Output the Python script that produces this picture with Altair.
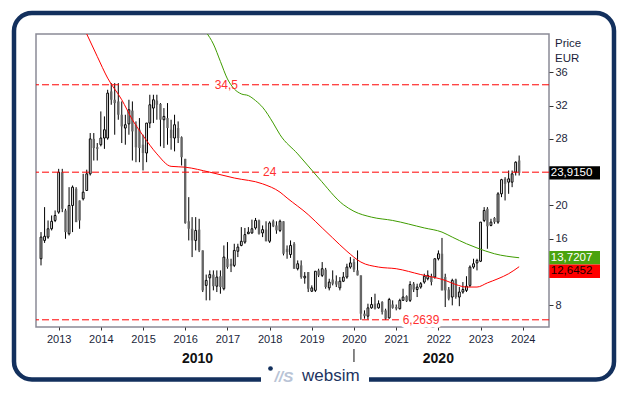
import altair as alt
import pandas as pd

# ---------------- data ----------------
first_month = "2012-08-01"   # monthly candles, Aug 2012 .. Dec 2023

opens = [
    13.6, 15.8, 16.2, 17.2, 18.2,
    19.2, 24.0, 19.4, 16.6, 20.0, 22.0, 20.6, 20.8, 21.8, 23.8, 28.0, 27.0,
    27.3, 28.1, 28.1, 33.7, 32.7, 32.5, 30.9, 29.3, 29.8, 31.4, 29.7, 29.1,
    27.3, 26.3, 29.9, 31.7, 32.6, 32.2, 30.3, 30.5, 29.1, 28.1, 29.3, 28.2,
    25.6, 18.1, 17.2, 15.8, 17.1, 14.6, 10.4, 11.3, 11.7, 10.3, 11.5, 10.0,
    13.6, 13.0, 12.8, 14.5, 15.2, 15.6, 16.6, 16.7, 17.3, 18.2, 16.7, 17.1,
    15.7, 18.1, 17.6, 17.0, 18.1, 14.8, 14.1, 15.4, 12.4, 12.8, 11.3, 12.0,
    9.7, 9.8, 12.2, 11.6, 12.3, 10.1, 11.1, 10.9, 10.1, 10.9, 11.4, 12.6,
    13.2, 12.2, 11.6, 7.0, 6.7, 7.7, 8.2, 7.7, 8.4, 7.4, 6.5, 8.1,
    7.8, 7.6, 8.6, 9.1, 8.6, 10.6, 9.9, 10.2, 10.8, 11.2, 11.5, 11.4,
    13.6, 14.2, 11.4, 9.9, 9.0, 11.1, 9.0, 9.6, 9.8, 10.4, 12.6, 13.1,
    13.3, 18.2, 19.6, 17.6, 18.5, 18.0, 21.4, 23.2, 22.8, 22.8, 24.0, 25.4,
]
highs = [
    16.8, 19.8, 18.2, 18.8, 19.4,
    24.4, 24.4, 19.6, 22.2, 22.4, 22.2, 20.6, 23.8, 24.3, 28.7, 28.7, 27.5,
    31.3, 30.7, 33.9, 34.7, 34.7, 34.7, 32.5, 30.9, 32.7, 32.5, 30.1, 30.5,
    28.5, 29.9, 33.3, 33.3, 33.3, 32.3, 31.7, 32.3, 30.3, 30.9, 30.1, 28.3,
    25.6, 21.0, 18.6, 18.6, 18.4, 14.6, 11.7, 12.2, 12.2, 12.2, 12.2, 15.2,
    15.6, 13.6, 15.4, 15.4, 17.4, 17.3, 17.4, 18.3, 18.5, 18.3, 17.6, 18.1,
    18.1, 18.3, 18.1, 18.3, 18.1, 15.2, 15.8, 15.6, 13.4, 13.4, 12.0, 12.0,
    10.4, 12.1, 12.4, 13.2, 12.5, 11.2, 12.2, 11.6, 11.4, 12.0, 13.0, 13.8,
    13.6, 14.6, 11.6, 7.4, 8.2, 9.0, 9.4, 8.6, 8.5, 7.6, 8.9, 8.6,
    8.1, 8.8, 10.0, 9.2, 10.9, 10.8, 10.6, 10.8, 11.8, 12.2, 11.8, 13.6,
    14.6, 16.1, 11.8, 10.2, 11.2, 11.2, 10.2, 10.8, 11.5, 12.8, 13.6, 13.6,
    18.0, 19.8, 19.8, 18.4, 18.6, 21.6, 23.2, 23.4, 24.2, 24.2, 25.3, 26.0,
]
lows = [
    12.8, 15.5, 16.0, 17.0, 18.0,
    19.0, 19.2, 16.0, 16.4, 16.8, 18.0, 17.2, 20.6, 21.8, 23.6, 25.4, 25.4,
    27.1, 26.8, 27.9, 32.1, 28.5, 30.3, 27.5, 27.3, 28.5, 25.4, 25.2, 25.2,
    24.2, 25.2, 29.3, 29.9, 30.3, 27.1, 26.9, 27.3, 26.7, 26.5, 27.5, 24.8,
    17.8, 15.8, 13.8, 14.6, 14.4, 9.6, 8.6, 8.6, 9.8, 9.6, 9.4, 9.8,
    12.4, 12.0, 12.6, 13.8, 15.1, 15.4, 16.6, 16.6, 17.1, 16.5, 16.2, 15.7,
    15.5, 17.4, 16.6, 16.8, 14.0, 13.6, 13.7, 12.4, 12.2, 11.2, 10.6, 9.6,
    9.6, 9.6, 11.4, 11.4, 10.0, 9.8, 10.4, 10.2, 9.8, 10.8, 11.2, 12.4,
    12.0, 11.6, 6.2639, 6.4, 6.3, 7.6, 7.5, 7.6, 6.9, 6.2639, 6.4, 7.6,
    7.4, 7.5, 8.6, 8.4, 8.4, 9.6, 9.0, 10.0, 10.6, 11.0, 10.4, 11.2,
    13.4, 9.8, 7.8, 8.6, 8.0, 8.8, 7.9, 9.4, 9.6, 10.2, 12.4, 12.2,
    13.2, 18.0, 14.8, 17.5, 17.8, 17.8, 21.0, 20.6, 21.4, 22.2, 23.6, 23.6,
]
closes = [
    16.2, 16.3, 17.2, 18.1, 18.8,
    24.0, 19.6, 16.8, 20.0, 22.2, 18.0, 18.2, 21.6, 23.8, 28.0, 26.9, 26.8,
    28.1, 29.1, 33.5, 32.7, 32.3, 30.9, 29.5, 29.7, 31.5, 28.9, 27.0, 26.9,
    26.3, 29.9, 32.1, 32.7, 32.1, 30.3, 30.7, 29.3, 28.1, 29.7, 28.1, 25.8,
    17.9, 17.2, 15.8, 17.0, 14.6, 9.8, 11.0, 11.7, 10.3, 11.4, 10.2, 13.8,
    12.6, 12.7, 14.6, 15.0, 15.7, 16.5, 16.8, 17.2, 18.2, 16.6, 17.1, 15.7,
    17.9, 17.5, 17.0, 18.1, 14.2, 14.4, 15.2, 12.4, 13.0, 11.4, 11.5, 10.0,
    10.1, 12.1, 11.6, 12.4, 10.2, 10.8, 10.6, 10.5, 10.9, 11.4, 12.6, 13.1,
    12.3, 11.6, 7.0, 6.7, 7.7, 8.1, 7.6, 8.2, 7.2, 6.4, 8.7, 7.7,
    7.6, 8.6, 9.0, 8.5, 10.5, 9.9, 10.2, 10.6, 11.5, 11.6, 10.8, 13.6,
    14.2, 9.8, 9.8, 8.8, 11.0, 9.0, 9.6, 9.9, 10.3, 12.6, 13.0, 13.4,
    18.0, 19.4, 17.5, 18.0, 18.0, 21.4, 23.1, 22.6, 23.2, 23.8, 25.2, 23.915,
]

red_ma_months = ["2013-09", "2013-12", "2014-03", "2014-07", "2014-10", "2015-01",
                 "2015-05", "2015-09", "2016-01", "2016-08", "2017-03", "2017-11",
                 "2018-04", "2018-06", "2018-12", "2019-04", "2019-07", "2019-11",
                 "2020-03", "2020-08", "2021-01", "2021-08", "2022-03", "2022-06",
                 "2022-09", "2022-12", "2023-03", "2023-06", "2023-09", "2023-12"]
red_ma_values = [40.6, 37.9, 35.3, 32.7, 30.3, 28.4,
                 26.2, 24.7, 24.6, 24.0, 23.3, 22.6,
                 21.6, 20.9, 18.9, 17.3, 16.1, 14.5,
                 13.2, 12.6, 12.4, 11.7, 11.0, 10.5,
                 10.2, 10.2, 10.7, 11.2, 11.8, 12.6452]

green_ma_months = ["2016-07", "2016-09", "2016-11", "2017-01", "2017-03", "2017-05",
                   "2017-07", "2017-09", "2017-11", "2018-02", "2018-04", "2018-09",
                   "2019-03", "2019-10", "2020-01", "2020-06", "2020-12", "2021-09",
                   "2022-02", "2022-05", "2022-09", "2022-12", "2023-05", "2023-12"]
green_ma_values = [40.8, 39.4, 37.3, 35.2, 34.0, 33.4,
                   33.2, 32.6, 31.8, 29.9, 28.5, 26.2,
                   23.3, 20.1, 19.3, 18.6, 18.2, 17.3,
                   16.8, 16.2, 15.4, 14.9, 14.2, 13.7207]

level_values = [34.5, 24.0, 6.2639]
level_labels = ["34,5", "24", "6,2639"]

tag_values = [23.915, 13.7207, 12.6452]
tag_labels = ["23,9150", "13,7207", "12,6452"]

year_ticks = list(range(2013, 2025))
price_ticks = [8, 16, 20, 28, 32, 36]   # 12 and 24 sit under the value tags
decade_labels = ["2010", "2020"]

# ---------------- styling constants ----------------
FONT = "Liberation Sans"
TXT = "#1b1f3b"
NAVY = "#13305d"
RED = "#ff0000"
GREEN = "#3f9c00"
TAG_COLORS = ["#000000", "#4aa30e", "#ff0000"]
TAG_TEXT = ["#ffffff", "#ffffff", "#1a0000"]
TAG_SHIFT = [0, 0, 4.5]
LEVEL_LABEL_PX = [190.3, 233.7, 385.0]

# ---------------- tables ----------------
assert len(opens) == len(highs) == len(lows) == len(closes)
dates = pd.date_range(first_month, periods=len(opens), freq="MS")
candles = pd.DataFrame({
    "date": dates.strftime("%Y-%m-%dT00:00:00"),
    "open": opens, "high": highs, "low": lows, "close": closes,
})
red_df = pd.DataFrame({"date": [m + "-01T00:00:00" for m in red_ma_months], "value": red_ma_values})
green_df = pd.DataFrame({"date": [m + "-01T00:00:00" for m in green_ma_months], "value": green_ma_values})
levels = pd.DataFrame({"value": level_values, "label": level_labels})

last_date = dates[-1] + pd.offsets.MonthBegin(1)
dec_bound = pd.Timestamp("2020-01-01")
dec_mid = [dates[0] + (dec_bound - dates[0]) / 2, dec_bound + (last_date - dec_bound) / 2]
decades = pd.DataFrame({"date": [d.strftime("%Y-%m-%dT%H:%M:%S") for d in dec_mid], "label": decade_labels})
boundary = pd.DataFrame({"date": [dec_bound.strftime("%Y-%m-%dT00:00:00")]})
one = pd.DataFrame({"k": [0]})

# ---------------- scales / encodings ----------------
x_scale = alt.Scale(domain=[alt.DateTime(year=2012, month=8, date=1),
                            alt.DateTime(year=2024, month=7, date=3)], nice=False)
y_scale = alt.Scale(domain=[5.4, 40.6], nice=False, zero=False)
x_axis = alt.Axis(values=[alt.DateTime(year=y, month=1, date=1) for y in year_ticks],
                  format="%Y", tickSize=3, labelPadding=3, domain=False, grid=False,
                  labelOverlap=False, labelFlush=False)
y_axis = alt.Axis(orient="right", values=price_ticks, tickSize=4, labelPadding=2,
                  domain=False, grid=False)


def X(field="date"):
    return alt.X(f"{field}:T", scale=x_scale, axis=x_axis, title=None)


def Y(field):
    return alt.Y(f"{field}:Q", scale=y_scale, axis=y_axis, title=None)


layers = []

# outer rounded frame + logo gap
layers.append(alt.Chart(one).mark_rect(filled=False, stroke=NAVY, strokeWidth=4.5, cornerRadius=18).encode(
    x=alt.value(-22), x2=alt.value(578), y=alt.value(-21), y2=alt.value(345.5)))
layers.append(alt.Chart(one).mark_rect(color="white").encode(
    x=alt.value(225), x2=alt.value(333), y=alt.value(337), y2=alt.value(352)))

# candles
layers.append(alt.Chart(candles).mark_rule(color="black", strokeWidth=1, clip=True).encode(
    x=X(), y=Y("low"), y2="high:Q"))
layers.append(alt.Chart(candles).transform_filter("datum.close < datum.open").mark_bar(
    width=2.4, color="#666666", clip=True).encode(x=X(), y=Y("open"), y2="close:Q"))
layers.append(alt.Chart(candles).transform_filter("datum.close >= datum.open").mark_bar(
    width=1.8, fill="white", stroke="black", strokeWidth=1, clip=True).encode(
    x=X(), y=Y("open"), y2="close:Q"))

# horizontal levels
layers.append(alt.Chart(levels).mark_rule(color=RED, strokeDash=[7, 3], strokeWidth=1).encode(y=Y("value")))
for val, lab, px in zip(level_values, level_labels, LEVEL_LABEL_PX):
    d = pd.DataFrame({"value": [val], "label": [lab]})
    layers.append(alt.Chart(d).mark_text(font=FONT, fontSize=12, stroke="white", strokeWidth=8,
                                         align="center", baseline="middle").encode(
        x=alt.value(px), y=Y("value"), text="label:N"))

# moving averages
layers.append(alt.Chart(green_df).mark_line(color=GREEN, strokeWidth=1, clip=True, interpolate="monotone").encode(
    x=X(), y=Y("value")))
layers.append(alt.Chart(red_df).mark_line(color=RED, strokeWidth=1, clip=True, interpolate="monotone").encode(
    x=X(), y=Y("value")))

for val, lab, px in zip(level_values, level_labels, LEVEL_LABEL_PX):
    d = pd.DataFrame({"value": [val], "label": [lab]})
    layers.append(alt.Chart(d).mark_text(font=FONT, fontSize=12, color="#ff3030",
                                         align="center", baseline="middle").encode(
        x=alt.value(px), y=Y("value"), text="label:N"))

# value tags on the right
for val, lab, col, tcol, sh in zip(tag_values, tag_labels, TAG_COLORS, TAG_TEXT, TAG_SHIFT):
    d = pd.DataFrame({"value": [val], "label": [lab]})
    layers.append(alt.Chart(d).mark_rect(color=col, yOffset=-6.7 + sh, y2Offset=6.7 + sh).encode(
        x=alt.value(513.3), x2=alt.value(564), y=Y("value"), y2="value:Q"))
    layers.append(alt.Chart(d).mark_text(font=FONT, fontSize=11.5, color=tcol, align="left",
                                         baseline="middle", dy=sh).encode(
        x=alt.value(514.8), y=Y("value"), text="label:N"))

# axis header
layers.append(alt.Chart(one).mark_text(font=FONT, fontSize=11.5, color=TXT, align="left").encode(
    x=alt.value(519), y=alt.value(9.8), text=alt.value("Price")))
layers.append(alt.Chart(one).mark_text(font=FONT, fontSize=11.5, color=TXT, align="left").encode(
    x=alt.value(519), y=alt.value(25.3), text=alt.value("EUR")))

# decade labels + separator
layers.append(alt.Chart(decades).mark_text(font=FONT, fontSize=14, fontWeight="bold", color="#111111",
                                           align="center").encode(
    x=X(), y=alt.value(325), text="label:N"))
layers.append(alt.Chart(boundary).mark_rule(color="#111111", strokeWidth=1).encode(
    x=X(), y=alt.value(315), y2=alt.value(328)))

# logo
layers.append(alt.Chart(one).mark_circle(size=22, color=NAVY, opacity=1).encode(
    x=alt.value(234.5), y=alt.value(334.5)))
layers.append(alt.Chart(one).mark_text(font=FONT, fontSize=15.5, fontWeight="bold", fontStyle="italic",
                                       color="#b9c4d6", align="left", baseline="middle").encode(
    x=alt.value(238.5), y=alt.value(342.5), text=alt.value("//S")))
layers.append(alt.Chart(one).mark_text(font=FONT, fontSize=17, color="#1d3461", align="left",
                                       baseline="middle").encode(
    x=alt.value(266), y=alt.value(342), text=alt.value("websim")))

chart = alt.layer(*layers).properties(
    width=513, height=293,
    padding={"left": 28, "top": 26, "right": 72, "bottom": 60},
    autosize=alt.AutoSizeParams(type="none"),
    background="white",
).configure_view(
    stroke="#8a8a96", strokeWidth=1.5,
).configure_axis(
    labelFont=FONT, labelFontSize=11, labelColor=TXT, tickColor="#333333",
)

chart.save("out.html", embed_options={"renderer": "svg", "actions": False})
